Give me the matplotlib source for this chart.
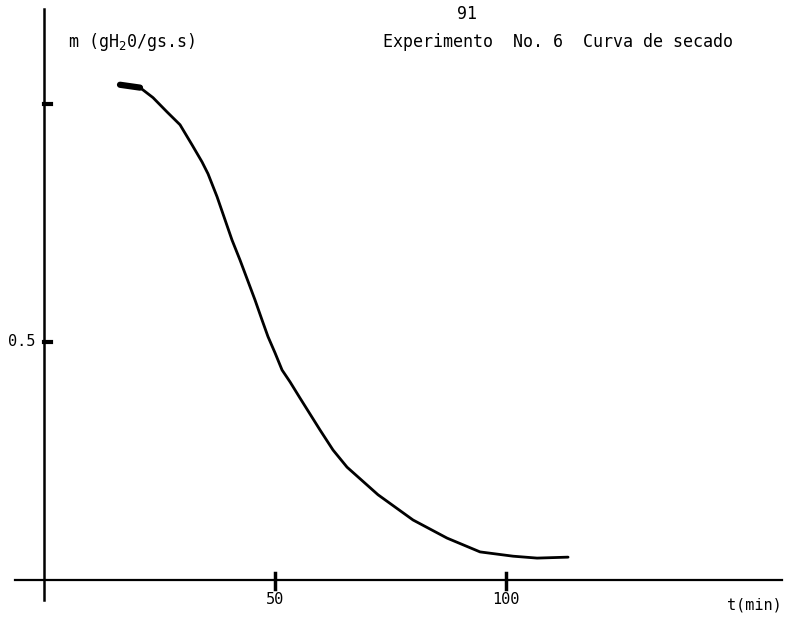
import matplotlib.pyplot as plt

# Drying curve, experiment 6: drying rate vs time
t_min = [16.45, 20.78, 23.59, 26.62, 29.44, 32.03, 34.20, 35.50, 37.45, 40.69,
         42.42, 45.67, 47.19, 48.48, 50.00, 51.52, 53.25, 55.41, 59.74, 62.55,
         65.58, 72.29, 79.87, 87.23, 94.37, 101.52, 106.71, 113.42]
rate = [1.040, 1.034, 1.013, 0.983, 0.956, 0.914, 0.878, 0.853, 0.805, 0.714,
        0.672, 0.588, 0.546, 0.511, 0.477, 0.441, 0.416, 0.382, 0.315, 0.273,
        0.237, 0.179, 0.126, 0.088, 0.059, 0.050, 0.046, 0.048]

x_ticks = [50, 100]
x_tick_labels = ['50', '100']
y_ticks = [0.5, 1.0]
y_tick_labels = ['0.5', '']

mono = 'DejaVu Sans Mono'

fig = plt.figure(figsize=(7.87, 6.17), dpi=100)
ax = fig.add_axes([0, 0, 1, 1])
ax.set_xlim(-9.52, 160.8)
ax.set_ylim(-0.0777, 1.218)
ax.axis('off')

# hand-drawn style axes
ax.plot([-6.3, 159.7], [0, 0], color='black', lw=1.6)
ax.plot([0, 0], [-0.042, 1.20], color='black', lw=1.8)

for t, lab in zip(x_ticks, x_tick_labels):
    ax.plot([t, t], [-0.018, 0.015], color='black', lw=2.5)
    ax.text(t, -0.042, lab, ha='center', va='center', fontsize=11, family=mono)

for m, lab in zip(y_ticks, y_tick_labels):
    ax.plot([0, 1.6], [m, m], color='black', lw=3)
    if lab:
        ax.text(-1.9, m, lab, ha='right', va='center', fontsize=11, family=mono)

ax.plot(t_min, rate, color='black', lw=2, solid_joinstyle='round',
        solid_capstyle='round')
ax.plot(t_min[:2], rate[:2], color='black', lw=4.5, solid_capstyle='round')

ax.text(159.6, -0.052, 't(min)', ha='right', va='center', fontsize=11,
        family=mono)
ax.text(5.2, 1.130, r'm (gH$_2$0/gs.s)', ha='left', va='center', fontsize=12,
        family=mono)
ax.text(91.5, 1.188, '91', ha='center', va='center', fontsize=12, family=mono)
ax.text(73.4, 1.130, 'Experimento  No. 6  Curva de secado', ha='left',
        va='center', fontsize=12, family=mono)

fig.savefig('out.png', dpi=100)
